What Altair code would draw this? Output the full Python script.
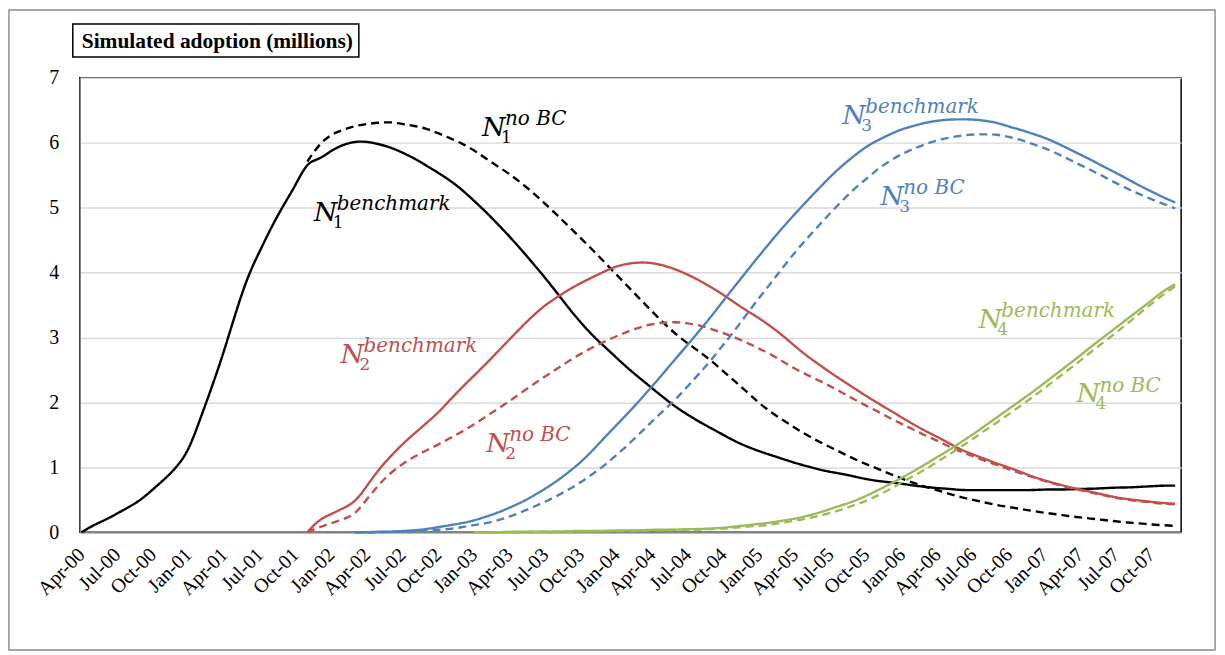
import altair as alt
import pandas as pd

# ---------------- data ----------------
tick_labels = ["Apr-00", "Jul-00", "Oct-00", "Jan-01", "Apr-01", "Jul-01", "Oct-01",
               "Jan-02", "Apr-02", "Jul-02", "Oct-02", "Jan-03", "Apr-03", "Jul-03",
               "Oct-03", "Jan-04", "Apr-04", "Jul-04", "Oct-04", "Jan-05", "Apr-05",
               "Jul-05", "Oct-05", "Jan-06", "Apr-06", "Jul-06", "Oct-06", "Jan-07",
               "Apr-07", "Jul-07", "Oct-07"]
tick_step = 3  # one label every 3 months

# month index 0 = Apr-00 ... 92 = Dec-07, monthly observations
n1_bench_start = 0
n1_bench = [0.00, 0.11, 0.19, 0.29, 0.39, 0.50, 0.66, 0.82, 1.00, 1.25,
            1.75, 2.25, 2.79, 3.40, 3.95, 4.33, 4.71, 5.04, 5.34, 5.71,
            5.74, 5.88, 5.97, 6.02, 6.02, 5.98, 5.93, 5.85, 5.76, 5.65,
            5.54, 5.42, 5.28, 5.11, 4.94, 4.75, 4.56, 4.35, 4.14, 3.92,
            3.69, 3.45, 3.23, 3.03, 2.86, 2.69, 2.52, 2.37, 2.22, 2.07,
            1.93, 1.81, 1.70, 1.60, 1.50, 1.40, 1.32, 1.25, 1.19, 1.13,
            1.07, 1.02, 0.97, 0.93, 0.90, 0.86, 0.82, 0.79, 0.77, 0.75,
            0.72, 0.70, 0.68, 0.67, 0.65, 0.65, 0.65, 0.65, 0.65, 0.65,
            0.65, 0.66, 0.66, 0.66, 0.67, 0.67, 0.68, 0.69, 0.69, 0.70,
            0.71, 0.72, 0.72]

n1_nobc_start = 19
n1_nobc = [5.71, 5.98, 6.13, 6.20, 6.26, 6.29, 6.31, 6.32, 6.29, 6.26,
           6.22, 6.15, 6.07, 5.99, 5.89, 5.76, 5.64, 5.52, 5.38, 5.23,
           5.06, 4.89, 4.71, 4.53, 4.35, 4.16, 3.97, 3.78, 3.59, 3.40,
           3.22, 3.05, 2.91, 2.78, 2.64, 2.48, 2.32, 2.16, 1.99, 1.85,
           1.73, 1.61, 1.50, 1.40, 1.31, 1.22, 1.13, 1.05, 0.98, 0.90,
           0.83, 0.76, 0.70, 0.65, 0.59, 0.54, 0.50, 0.46, 0.42, 0.39,
           0.36, 0.33, 0.30, 0.28, 0.25, 0.23, 0.21, 0.19, 0.17, 0.15,
           0.14, 0.12, 0.11, 0.10]

n2_bench_start = 19
n2_bench = [0.00, 0.20, 0.28, 0.37, 0.46, 0.71, 0.97, 1.17, 1.36, 1.52,
            1.68, 1.84, 2.04, 2.23, 2.41, 2.59, 2.78, 2.97, 3.16, 3.34,
            3.50, 3.62, 3.74, 3.84, 3.93, 4.02, 4.10, 4.14, 4.16, 4.15,
            4.11, 4.05, 3.97, 3.88, 3.77, 3.66, 3.53, 3.41, 3.30, 3.17,
            3.03, 2.87, 2.72, 2.59, 2.46, 2.34, 2.22, 2.10, 1.99, 1.88,
            1.77, 1.66, 1.56, 1.47, 1.37, 1.27, 1.20, 1.13, 1.06, 1.00,
            0.93, 0.86, 0.80, 0.75, 0.70, 0.66, 0.62, 0.58, 0.54, 0.51,
            0.49, 0.47, 0.45, 0.44]

n2_nobc_start = 19
n2_nobc = [0.00, 0.08, 0.14, 0.20, 0.27, 0.51, 0.73, 0.92, 1.05, 1.17,
           1.26, 1.35, 1.45, 1.55, 1.66, 1.78, 1.90, 2.02, 2.15, 2.28,
           2.40, 2.52, 2.64, 2.75, 2.85, 2.94, 3.02, 3.10, 3.16, 3.21,
           3.23, 3.24, 3.22, 3.19, 3.13, 3.07, 3.00, 2.92, 2.83, 2.74,
           2.63, 2.52, 2.43, 2.34, 2.25, 2.15, 2.05, 1.95, 1.86, 1.76,
           1.67, 1.58, 1.49, 1.41, 1.32, 1.24, 1.17, 1.10, 1.04, 0.97,
           0.91, 0.85, 0.79, 0.74, 0.69, 0.65, 0.61, 0.57, 0.53, 0.50,
           0.48, 0.46, 0.44, 0.43]

n3_bench_start = 23
n3_bench = [0.00, 0.00, 0.01, 0.01, 0.02, 0.03, 0.05, 0.08, 0.11, 0.14,
            0.18, 0.24, 0.30, 0.38, 0.46, 0.56, 0.67, 0.79, 0.93, 1.08,
            1.26, 1.46, 1.65, 1.84, 2.04, 2.25, 2.46, 2.68, 2.89, 3.11,
            3.33, 3.57, 3.80, 4.03, 4.26, 4.48, 4.70, 4.90, 5.10, 5.29,
            5.48, 5.65, 5.80, 5.94, 6.04, 6.13, 6.21, 6.26, 6.31, 6.34,
            6.36, 6.36, 6.36, 6.34, 6.31, 6.25, 6.20, 6.14, 6.08, 6.00,
            5.91, 5.82, 5.73, 5.63, 5.54, 5.44, 5.34, 5.25, 5.16, 5.08]

n3_nobc_start = 23
n3_nobc = [0.00, 0.00, 0.00, 0.01, 0.01, 0.02, 0.03, 0.04, 0.05, 0.08,
           0.11, 0.14, 0.18, 0.24, 0.31, 0.39, 0.47, 0.56, 0.66, 0.77,
           0.90, 1.03, 1.19, 1.35, 1.53, 1.71, 1.88, 2.05, 2.25, 2.45,
           2.66, 2.89, 3.12, 3.37, 3.61, 3.84, 4.08, 4.31, 4.52, 4.72,
           4.92, 5.11, 5.29, 5.44, 5.60, 5.72, 5.83, 5.91, 5.98, 6.04,
           6.08, 6.11, 6.13, 6.13, 6.13, 6.09, 6.05, 5.98, 5.92, 5.84,
           5.75, 5.66, 5.57, 5.48, 5.38, 5.29, 5.21, 5.13, 5.06, 4.99]

n4_bench_start = 33
n4_bench = [0.00, 0.00, 0.00, 0.01, 0.01, 0.01, 0.01, 0.01, 0.02, 0.02,
            0.02, 0.02, 0.03, 0.03, 0.03, 0.04, 0.04, 0.04, 0.05, 0.05,
            0.06, 0.07, 0.09, 0.11, 0.13, 0.15, 0.18, 0.21, 0.25, 0.30,
            0.36, 0.42, 0.48, 0.56, 0.65, 0.74, 0.84, 0.94, 1.05, 1.16,
            1.27, 1.39, 1.51, 1.64, 1.77, 1.90, 2.03, 2.16, 2.30, 2.44,
            2.58, 2.72, 2.87, 3.01, 3.15, 3.29, 3.43, 3.57, 3.72, 3.82]

n4_nobc_start = 33
n4_nobc = [0.00, 0.00, 0.00, 0.00, 0.00, 0.01, 0.01, 0.01, 0.01, 0.01,
           0.02, 0.02, 0.02, 0.02, 0.03, 0.03, 0.03, 0.04, 0.04, 0.04,
           0.05, 0.06, 0.07, 0.09, 0.10, 0.12, 0.15, 0.18, 0.21, 0.25,
           0.30, 0.35, 0.42, 0.48, 0.57, 0.66, 0.77, 0.87, 0.97, 1.09,
           1.20, 1.32, 1.44, 1.57, 1.69, 1.82, 1.95, 2.08, 2.22, 2.36,
           2.50, 2.64, 2.79, 2.93, 3.07, 3.22, 3.37, 3.52, 3.66, 3.79]

# label texts and their anchor (month index, value)
label_product = ["1", "1", "2", "2", "3", "3", "4", "4"]
label_scenario = ["no BC", "benchmark", "benchmark", "no BC",
                  "benchmark", "no BC", "benchmark", "no BC"]
label_month = [33.7, 19.55, 21.8, 34.05, 64.0, 67.2, 75.45, 83.7]
label_value = [6.11, 4.79, 2.61, 1.24, 6.29, 5.04, 3.15, 2.00]

title_text = "Simulated adoption (millions)"

# ---------------- build tables ----------------
series = [
    ("1", "benchmark", n1_bench_start, n1_bench),
    ("1", "no BC", n1_nobc_start, n1_nobc),
    ("2", "benchmark", n2_bench_start, n2_bench),
    ("2", "no BC", n2_nobc_start, n2_nobc),
    ("3", "benchmark", n3_bench_start, n3_bench),
    ("3", "no BC", n3_nobc_start, n3_nobc),
    ("4", "benchmark", n4_bench_start, n4_bench),
    ("4", "no BC", n4_nobc_start, n4_nobc),
]
rows = []
for prod, scen, start, vals in series:
    for i, v in enumerate(vals):
        rows.append({"m": start + i, "v": v, "product": prod, "scenario": scen,
                     "series": prod + " " + scen})
df = pd.DataFrame(rows)

lab = pd.DataFrame({"m": label_month, "v": label_value,
                    "product": label_product, "scenario": label_scenario,
                    "N": ["N"] * len(label_month)})

prod_domain = ["1", "2", "3", "4"]
prod_colors = ["#000000", "#C0504D", "#4F81BD", "#9BBB59"]
color_scale = alt.Scale(domain=prod_domain, range=prod_colors)

SERIF = "'Liberation Serif', 'Times New Roman', Times, serif"
MATH = "'DejaVu Serif', serif"

label_expr = ("[" + ",".join("'" + t + "'" for t in tick_labels) + "]"
              + "[round(datum.value / %d)]" % tick_step)
tick_values = [i * tick_step for i in range(len(tick_labels))]

x_scale = alt.Scale(domain=[-0.14, 92.5], nice=False, zero=False)
y_scale = alt.Scale(domain=[0, 7], nice=False)

x_axis = alt.Axis(values=tick_values, labelExpr=label_expr, labelAngle=-45,
                  labelAlign="right", labelBaseline="middle",
                  labelFont=SERIF, labelFontSize=20,
                  labelColor="black", labelPadding=19, grid=False,
                  ticks=False, title=None, labelOverlap=False,
                  labelBound=False, labelFlush=False,
                  domainColor="#868686", domainWidth=1.5)
y_axis = alt.Axis(values=list(range(0, 8)), format="d", labelFont=SERIF,
                  labelFontSize=20, labelColor="black", labelPadding=21,
                  ticks=False, title=None, grid=True, gridColor="#d9d9d9",
                  gridWidth=1.5, domainColor="#868686", domainWidth=1.5)
x_enc = alt.X("m:Q", scale=x_scale, axis=x_axis)
y_enc = alt.Y("v:Q", scale=y_scale, axis=y_axis)
color_enc = alt.Color("product:N", scale=color_scale, legend=None)

lines = alt.Chart(df).mark_line(strokeWidth=2.4, interpolate="basis").encode(
    x=x_enc,
    y=y_enc,
    color=color_enc,
    strokeDash=alt.StrokeDash("scenario:N",
                              scale=alt.Scale(domain=["benchmark", "no BC"],
                                              range=[[1, 0], [8, 5]]),
                              legend=None),
    detail="series:N",
    order="m:Q",
)

base_lab = alt.Chart(lab).encode(x=x_enc, y=y_enc, color=color_enc)
n_text = base_lab.mark_text(font=MATH, fontStyle="italic", fontSize=27,
                            align="left", baseline="alphabetic").encode(text="N:N")
sup_text = base_lab.mark_text(font=MATH, fontStyle="italic", fontSize=20,
                              align="left", baseline="alphabetic", dx=23, dy=-11
                              ).encode(text="scenario:N")
sub_text = base_lab.mark_text(font=MATH, fontSize=17,
                              align="left", baseline="alphabetic", dx=19, dy=7
                              ).encode(text="product:N")

one = pd.DataFrame({"t": [title_text]})
title_box = alt.Chart(one).mark_rect(fill="white", stroke="black", strokeWidth=1.5).encode(
    x=alt.value(-7), x2=alt.value(280), y=alt.value(-54), y2=alt.value(-21))
title_txt = alt.Chart(one).mark_text(font=SERIF, fontWeight="bold", fontSize=21.5,
                                     align="left", baseline="alphabetic", color="black").encode(
    x=alt.value(2), y=alt.value(-30), text="t:N")
outer = alt.Chart(one).mark_rect(fill=None, stroke="#8c8c8c", strokeWidth=1.5).encode(
    x=alt.value(-71), x2=alt.value(1139), y=alt.value(-68), y2=alt.value(574))

chart = alt.layer(outer, lines, n_text, sup_text, sub_text, title_box, title_txt).properties(
    width=1105, height=456,
    autosize=alt.AutoSizeParams(type="none"),
    padding={"left": 72, "top": 69, "right": 36, "bottom": 122},
    background="white",
).configure_view(stroke="black", strokeWidth=1.5)

chart.save("out.html", embed_options={"renderer": "svg", "actions": False})
